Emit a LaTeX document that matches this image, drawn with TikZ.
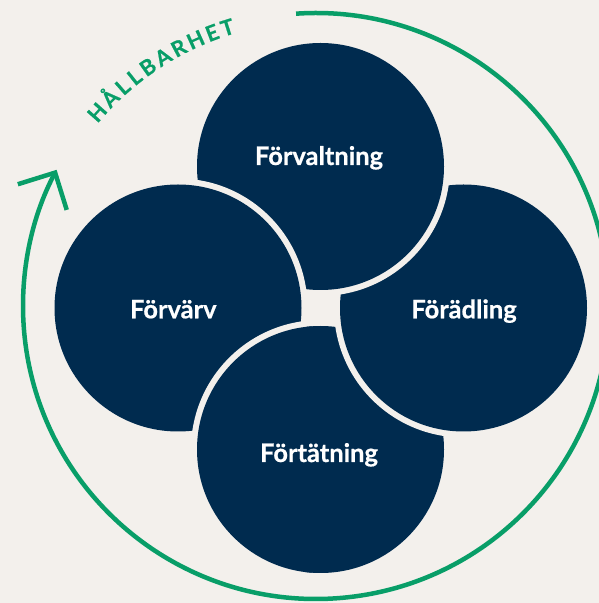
\documentclass[tikz,border=0pt]{standalone}
\usepackage{fontspec}
\setmainfont{Lato}[BoldFeatures={FakeBold=0.6}]
\usetikzlibrary{arrows.meta}
\definecolor{navy}{RGB}{0,43,79}
\definecolor{ringgreen}{RGB}{8,158,104}
\definecolor{paper}{RGB}{243,240,236}
\begin{document}
\begin{tikzpicture}[x=1pt,y=1pt,font=\bfseries,
  leaf/.style={fill=navy},
  gap/.style={fill=paper},
  leaflabel/.style={anchor=base,text=white,font=\bfseries\fontsize{25.5}{30}\selectfont},
  ringletter/.style={anchor=base,text=ringgreen,inner sep=0pt,font=\bfseries\fontsize{21.5}{22}\selectfont},
  ring/.style={draw=ringgreen,line width=4.5pt}]

\useasboundingbox[fill=paper] (0,0) rectangle (599,603);

\coordinate (o) at (316,297);
\coordinate (v) at (320.5,436.5);
\coordinate (d) at (463.5,295);
\coordinate (t) at (320.5,153.5);
\coordinate (r) at (178,295);

\foreach \c in {t,d,v,r}{
  \fill[gap] (\c) circle (129.5);
  \fill[leaf] (\c) circle (123.5);
}
% Förtätning lies on top of Förvärv
\begin{scope}
\clip (0,0) rectangle (305,603);
\fill[gap] (t) circle (129.5);
\end{scope}
\begin{scope}
\clip (0,0) rectangle (312,603);
\fill[leaf] (t) circle (123.5);
\end{scope}

\node[leaflabel] (lv) at (319,438) {Förvaltning};
\node[leaflabel] (lr) at (173.3,284.7) {Förvärv};
\node[leaflabel] (ld) at (464,284.7) {Förädling};
\node[leaflabel] (lt) at (319,141) {Förtätning};

\draw[ring,-{Straight Barb[length=27.6pt,width=55.2pt]}] ([shift={(93.9:293)}]o) arc[start angle=93.9,end angle=-207.7,radius=293];

% letters of the ring label
\foreach \a/\l [count=\i] in {138.5/H,134.73/Å,131.4/L,128.38/L,125.12/B,121.55/A,118.0/R,114.33/H,110.82/E,107.64/T}
  \node[ringletter,rotate=\a-90] (h\i) at ([shift={(\a:284.5)}]o) {\l};

\end{tikzpicture}
\end{document}
